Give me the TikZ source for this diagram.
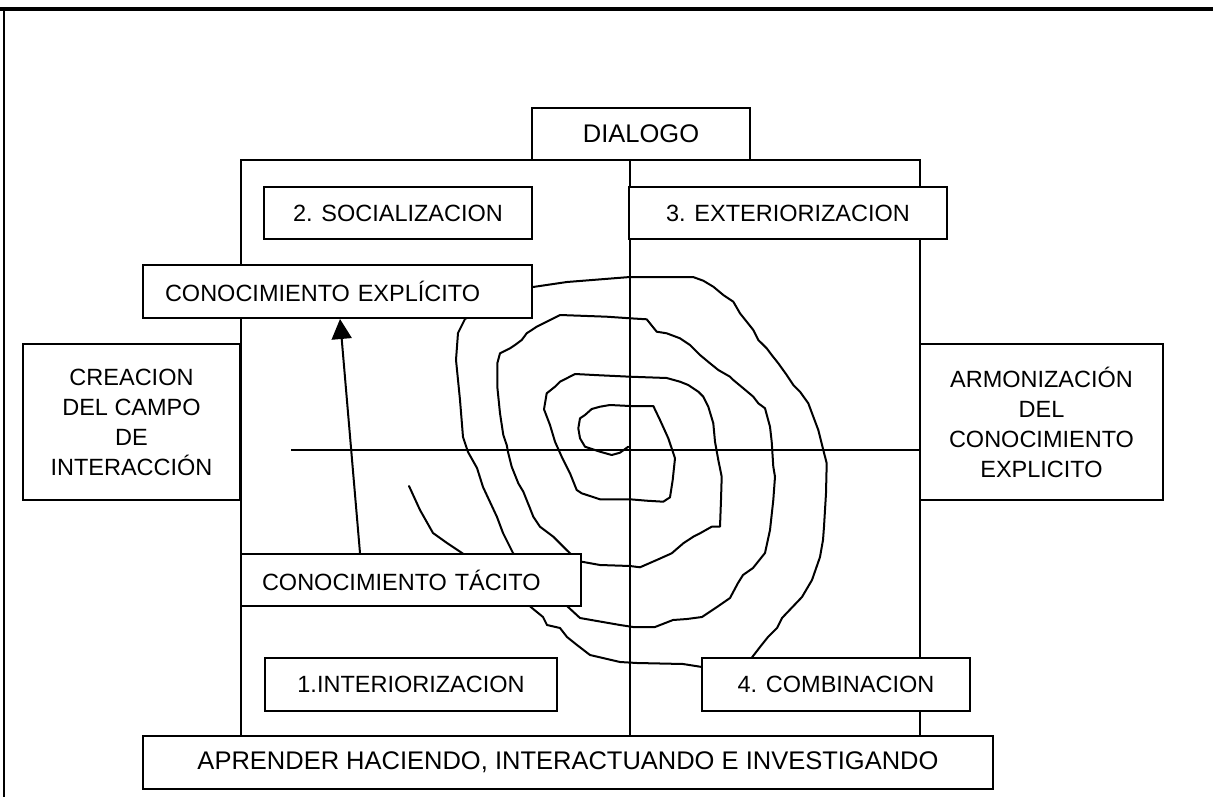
\documentclass[tikz,border=0pt]{standalone}
\usepackage{fontspec}
\setmainfont{Liberation Sans}
\usetikzlibrary{arrows.meta}
\tikzset{
  caja/.style={draw, fill=white, line width=2pt, inner sep=0pt, minimum height=52pt, font=\fontsize{23.5}{30}\selectfont},
  cajaizq/.style={caja, align=left, inner xsep=22pt},
  grande/.style={font=\fontsize{25.5}{30}\selectfont},
  espiral/.style={line width=2pt, line join=round, line cap=round},
}
\begin{document}
\begin{tikzpicture}[x=1pt, y=-1pt, line width=2pt]
    \useasboundingbox (0,0) rectangle (1213,797);
    % marco
    \draw[line width=3.5pt] (0,9) -- (1213,9);
    \draw (3.5,9) -- (3.5,797);

    % espiral (de adentro hacia afuera)
    \draw[espiral] (628.3,446.7) -- (620,452.7) -- (611.7,455) -- (600,451.7) -- (585,446.7)
      -- (580,438.3) -- (578.3,428.3) -- (580,418.3) -- (585,415) -- (591.7,409) -- (600,406.7)
      -- (610,405) -- (630,406) -- (653.3,406) -- (660,420) -- (668.3,438.3) -- (675,458.3)
      -- (672.7,480) -- (670,497.3) -- (663.3,501.7) -- (646.7,500.7) -- (630,499.3) -- (600,499.3)
      -- (581.7,493.3) -- (576.7,490) -- (570,473.3) -- (561.7,456.7) -- (555,441.7) -- (550,425)
      -- (544,409.3) -- (546.7,393.3) -- (555,386.7) -- (560,381.7) -- (566.7,378.3) -- (575,374)
      -- (600,375.3) -- (630,376.7) -- (666.7,378) -- (680,381.7) -- (688.3,385) -- (698.3,391.7)
      -- (703.3,396.7) -- (708.3,406.7) -- (713.3,423.3) -- (715,441.7) -- (718.3,460) -- (721.7,476.7)
      -- (721,500) -- (720,526.7) -- (711.7,526.7) -- (700,533.3) -- (693.3,536.7) -- (683.3,543.3)
      -- (671.7,553.3) -- (658.3,559.3) -- (640,567.3) -- (630,566) -- (600,565) -- (581.7,561.7)
      -- (570,553.3) -- (563.3,546.7) -- (553.3,536.7) -- (540,526.7) -- (533.3,516.7) -- (530,508.3)
      -- (523.3,491.7) -- (518.3,483.3) -- (511.7,466.7) -- (508.3,453.3) -- (506.7,445) -- (503.3,435)
      -- (500,413.3) -- (497.3,386.7) -- (497.3,363.3) -- (500,353.3) -- (510,348.3) -- (515,345)
      -- (521.7,340) -- (526.7,333.3) -- (536.7,326.7) -- (546.7,321.7) -- (560,315) -- (606.7,316.7)
      -- (630,318.3) -- (646.7,319.3) -- (656.7,331.7) -- (666.7,333.3) -- (680,338.3) -- (690,345)
      -- (695,350) -- (700,355) -- (710,363.3) -- (718.3,370) -- (730,376.7) -- (733.3,380)
      -- (743.3,388.3) -- (753.3,396.7) -- (758.3,403.3) -- (765,408.3) -- (770,426.7) -- (771.7,441.7)
      -- (773.3,466.7) -- (775,476.7) -- (773.3,500) -- (770,530) -- (765,553) -- (753,568) -- (743,575)
      -- (738,583) -- (730,598) -- (717,607) -- (702,617) -- (687,619) -- (673,620) -- (655,627)
      -- (633,627) -- (620,625) -- (597,621) -- (580,618) -- (567,606) -- (540,580) -- (513,553)
      -- (503,533) -- (497,517) -- (490,502) -- (483,487) -- (477,468) -- (468,452) -- (463,437)
      -- (460,400) -- (456,360) -- (458,333) -- (465,319) -- (500,300) -- (533,287) -- (567,282)
      -- (630,277) -- (693,277) -- (703.3,280.7) -- (713.3,286.7) -- (723.3,295) -- (733.3,301.7)
      -- (740,313.3) -- (746.7,321.7) -- (753.3,330) -- (758.3,340) -- (766.7,348.3) -- (771.7,355)
      -- (778.3,363.3) -- (786.7,375) -- (793.3,385) -- (800,391.7) -- (808.3,403.3) -- (813.3,416.7)
      -- (818.3,430) -- (823.3,450) -- (826.7,463.3) -- (826,493.3) -- (824,526.7) -- (823,540)
      -- (820,557) -- (812,580) -- (802,597) -- (782,618) -- (777,628) -- (768,637) -- (760,647)
      -- (750,660) -- (737,667) -- (702,667) -- (683,664) -- (637,663) -- (620,662) -- (590,655)
      -- (577,645) -- (567,637) -- (560,628) -- (547,625) -- (543,617) -- (532,608) -- (500,580)
      -- (462,553) -- (447,543) -- (433,533) -- (420,510) -- (409,486);

    % cuadrantes
    \draw (241,160) rectangle (920,736);
    \draw (630,160) -- (630,736);
    \draw (291,450) -- (920,450);

    % cajas
    \node[caja, grande, minimum width=218pt] (dialogo) at (641,134) {DIALOGO};
    \node[caja, minimum width=268pt] (social) at (398,213) {2. SOCIALIZACION};
    \node[caja, minimum width=318pt] (exter) at (788,213) {3. EXTERIORIZACION};
    \node[cajaizq, text width=345pt, minimum height=53pt] (explicito) at (337.5,291.5) {CONOCIMIENTO EXPL\'ICITO};
    \node[caja, align=center, minimum width=217pt, minimum height=156pt] (creacion) at (131.5,422)
        {CREACION\\DEL CAMPO\\DE\\INTERACCI\'ON};
    \node[caja, align=center, minimum width=243pt, minimum height=156pt] (armon) at (1041.5,422)
        {ARMONIZACI\'ON\\DEL\\CONOCIMIENTO\\EXPLICITO};
    \node[cajaizq, inner xsep=21pt, text width=298pt] (tacito) at (411,580) {CONOCIMIENTO T\'ACITO};
    \node[caja, minimum width=292pt, minimum height=53pt] (interior) at (411,684.5) {1.INTERIORIZACION};
    \node[caja, minimum width=268pt, minimum height=53pt] (combina) at (836,684.5) {4. COMBINACION};
    \node[caja, grande, minimum width=850pt, minimum height=53pt] (aprender) at (568,762.5)
        {APRENDER HACIENDO, INTERACTUANDO E INVESTIGANDO};

    % del tacito al explicito
    \draw[-{Triangle[length=20pt,width=20pt]}] ([xshift=120pt]tacito.north west) -- ([xshift=198pt]explicito.south west);
\end{tikzpicture}
\end{document}
